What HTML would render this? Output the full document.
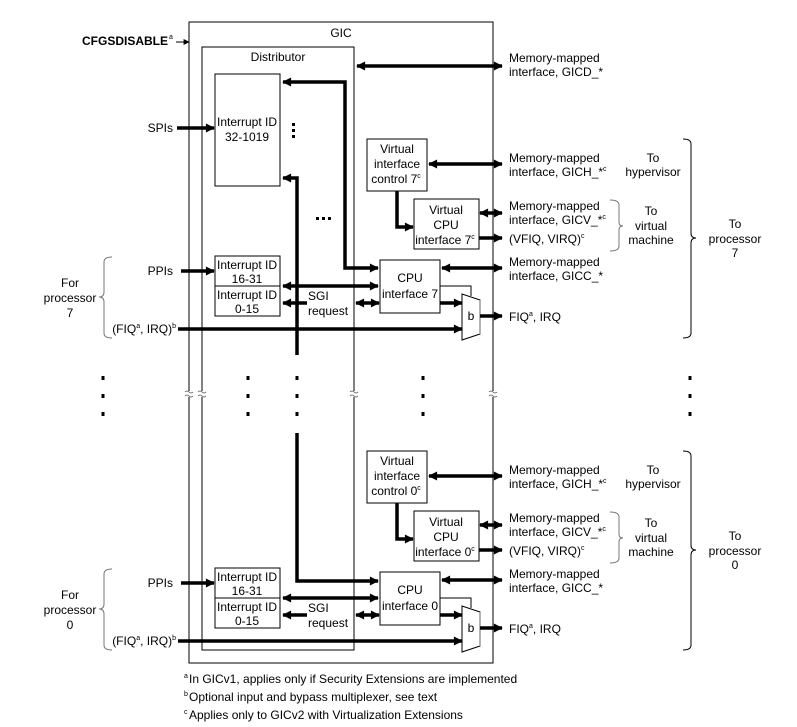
<!DOCTYPE html>
<html><head><meta charset="utf-8"><style>
html,body{margin:0;padding:0;background:#fff}
svg{display:block}
text{font-family:"Liberation Sans",Arial,sans-serif;font-size:12px;fill:#000}
.c{text-anchor:middle}.r{text-anchor:end}
.t{stroke:#000;stroke-width:1;fill:none}
.k{stroke:#000;stroke-width:3.5;fill:none}
.b{stroke:#000;stroke-width:1;fill:#fff}
</style></head><body>
<svg width="797" height="727" viewBox="0 0 797 727" xmlns="http://www.w3.org/2000/svg">
<defs>
<marker id="a" viewBox="0 0 10 10" refX="9" refY="5" markerWidth="10" markerHeight="9" markerUnits="userSpaceOnUse" orient="auto-start-reverse"><path d="M0,0L10,5L0,10z"/></marker>
<marker id="s" viewBox="0 0 10 10" refX="9" refY="5" markerWidth="7" markerHeight="6" markerUnits="userSpaceOnUse" orient="auto"><path d="M0,0L10,5L0,10z"/></marker>
</defs>
<rect class="b" x="189" y="22" width="304" height="641" fill="none"/>
<text class="c" x="341" y="37">GIC</text>
<rect class="t" x="202" y="47" width="152" height="603"/>
<text class="c" x="278" y="61">Distributor</text>
<text class="r" x="168" y="45" style="font-weight:bold">CFGSDISABLE</text>
<text x="169" y="39" style="font-size:7px">a</text>
<line class="t" x1="176" y1="42" x2="189" y2="42" marker-end="url(#s)"/>
<line class="k" x1="357" y1="66" x2="502" y2="66" marker-start="url(#a)" marker-end="url(#a)"/>
<text x="509" y="62">Memory-mapped</text><text x="509" y="76">interface, GICD_*</text>
<rect class="b" x="215" y="74" width="65" height="112"/>
<text class="c" x="247" y="126">Interrupt ID</text><text class="c" x="247" y="141">32-1019</text>
<text class="r" x="173" y="132">SPIs</text>
<line class="k" x1="177" y1="128" x2="214" y2="128" marker-end="url(#a)"/>
<rect x="292" y="123" width="3" height="3"/><rect x="292" y="129" width="3" height="3"/><rect x="292" y="135" width="3" height="3"/>
<rect x="316" y="217" width="3" height="3"/><rect x="322" y="217" width="3" height="3"/><rect x="328" y="217" width="3" height="3"/>
<polyline class="k" points="283,82 345,82 345,268 378,268" marker-start="url(#a)" marker-end="url(#a)"/>
<polyline class="k" points="283,178 297,178 297,355" marker-start="url(#a)"/>
<polyline class="k" points="297,433 297,581 378,581" marker-end="url(#a)"/>

<g id="p">
<rect class="b" x="367" y="139" width="60" height="52"/>
<text class="c" x="397" y="153">Virtual</text><text class="c" x="397" y="168">interface</text><text class="c" x="396" y="183">control <tspan>7</tspan><tspan dy="-5" style="font-size:7px">c</tspan></text>
<rect class="b" x="414" y="199" width="65" height="50"/>
<text class="c" x="446" y="214">Virtual</text><text class="c" x="446" y="229">CPU</text><text class="c" x="445" y="244">interface <tspan>7</tspan><tspan dy="-5" style="font-size:7px">c</tspan></text>
<line class="k" x1="429" y1="164" x2="502" y2="164" marker-start="url(#a)" marker-end="url(#a)"/>
<polyline class="k" points="397,191 397,227 413,227" marker-end="url(#a)"/>
<line class="k" x1="480" y1="213" x2="502" y2="213" marker-start="url(#a)" marker-end="url(#a)"/>
<line class="k" x1="479" y1="238" x2="502" y2="238" marker-end="url(#a)"/>
<rect class="b" x="380" y="260" width="60" height="53"/>
<text class="c" x="410" y="282">CPU</text><text class="c" x="410" y="298">interface 7</text>
<line class="k" x1="442" y1="268" x2="502" y2="268" marker-start="url(#a)" marker-end="url(#a)"/>
<polyline class="t" points="440,286 471,286 471,296"/>
<line class="k" x1="440" y1="303" x2="462" y2="303" marker-end="url(#a)"/>
<polygon points="462,294 480,300 480,334 462,340" fill="#fff" stroke="#000" stroke-width="1"/>
<line x1="480" y1="300" x2="480" y2="334" stroke="#999" stroke-width="1.5"/>
<text class="c" x="471" y="320">b</text>
<line class="k" x1="480" y1="316" x2="502" y2="316" marker-end="url(#a)"/>
<line class="k" x1="178" y1="329" x2="462" y2="329" marker-end="url(#a)"/>
<rect class="b" x="215" y="256" width="65" height="30"/><rect class="b" x="215" y="286" width="65" height="30"/>
<text class="c" x="247" y="269">Interrupt ID</text><text class="c" x="247" y="283">16-31</text>
<text class="c" x="247" y="299">Interrupt ID</text><text class="c" x="247" y="313">0-15</text>
<line class="k" x1="283" y1="286" x2="378" y2="286" marker-start="url(#a)" marker-end="url(#a)"/>
<line class="k" x1="307" y1="303" x2="283" y2="303" marker-end="url(#a)"/>
<line class="k" x1="356" y1="303" x2="379" y2="303" marker-start="url(#a)" marker-end="url(#a)"/>
<text x="308" y="300">SGI</text><text x="308" y="315">request</text>
<text class="r" x="173" y="275">PPIs</text>
<line class="k" x1="181" y1="271" x2="214" y2="271" marker-end="url(#a)"/>
<text class="r" x="176" y="333">(FIQ<tspan dy="-5" style="font-size:7px">a</tspan><tspan dy="5">, IRQ)</tspan><tspan dy="-5" style="font-size:7px">b</tspan></text>
<path d="M112,257 Q104,257 104,262 L104,292 Q104,297 99,297 Q104,297 104,302 L104,333 Q104,338 112,338" fill="none" stroke="#777" stroke-width="1"/>
<text class="c" x="70" y="287">For</text><text class="c" x="70" y="302">processor</text><text class="c" x="70" y="317">7</text>
<text x="509" y="162">Memory-mapped</text><text x="509" y="176">interface, GICH_*<tspan dy="-5" style="font-size:7px">c</tspan></text>
<text x="509" y="210">Memory-mapped</text><text x="509" y="224">interface, GICV_*<tspan dy="-5" style="font-size:7px">c</tspan></text>
<text x="509" y="243">(VFIQ, VIRQ)<tspan dy="-5" style="font-size:7px">c</tspan></text>
<text x="509" y="266">Memory-mapped</text><text x="509" y="280">interface, GICC_*</text>
<text x="509" y="321">FIQ<tspan dy="-5" style="font-size:7px">a</tspan><tspan dy="5">, IRQ</tspan></text>
<text class="c" x="653" y="162">To</text><text class="c" x="653" y="176">hypervisor</text>
<path d="M610,200 Q619,200 619,205 L619,222 Q619,226 623,226 Q619,226 619,230 L619,246 Q619,251 610,251" fill="none" stroke="#777" stroke-width="1"/>
<text class="c" x="651" y="215">To</text><text class="c" x="651" y="230">virtual</text><text class="c" x="651" y="244">machine</text>
<path d="M683,139 Q691,139 691,144 L691,233 Q691,238 696,238 Q691,238 691,243 L691,333 Q691,338 683,338" fill="none" stroke="#000" stroke-width="1"/>
<text class="c" x="735" y="228">To</text><text class="c" x="735" y="243">processor</text><text class="c" x="735" y="257">7</text>
</g>
</svg>
<script>
(function(){var g=document.getElementById('p');var c=g.cloneNode(true);c.removeAttribute('id');c.setAttribute('transform','translate(0,312)');
var ts=c.getElementsByTagName('text');for(var i=0;i<ts.length;i++){var e=ts[i];
if(e.textContent==='7')e.textContent='0';
if(e.textContent==='interface 7')e.textContent='interface 0';}
var sp=c.getElementsByTagName('tspan');for(var j=0;j<sp.length;j++){if(sp[j].textContent==='7')sp[j].textContent='0';}
g.parentNode.appendChild(c);
var ns='http://www.w3.org/2000/svg',svg=g.parentNode;
function mk(t,a){var e=document.createElementNS(ns,t);for(var k in a)e.setAttribute(k,a[k]);svg.appendChild(e);return e;}
[189,202,354,493].forEach(function(x){mk('rect',{x:x-4,y:391,width:8,height:6,fill:'#fff'});
mk('path',{d:'M'+(x-4)+',392 q2,-2 4,0 t4,0 M'+(x-4)+',396 q2,-2 4,0 t4,0',fill:'none',stroke:'#555','stroke-width':'0.8'});});
[103,248,297,423,690].forEach(function(x){[376,394,412].forEach(function(y){mk('rect',{x:x-1.5,y:y,width:3,height:4});});});
var f=[['a','In GICv1, applies only if Security Extensions are implemented',683],['b','Optional input and bypass multiplexer, see text',701],['c','Applies only to GICv2 with Virtualization Extensions',719]];
f.forEach(function(r){var t=mk('text',{x:184,y:r[2]-5,style:'font-size:7px'});t.textContent=r[0];var u=mk('text',{x:189,y:r[2]});u.textContent=r[1];});
})();
</script>
</body></html>
